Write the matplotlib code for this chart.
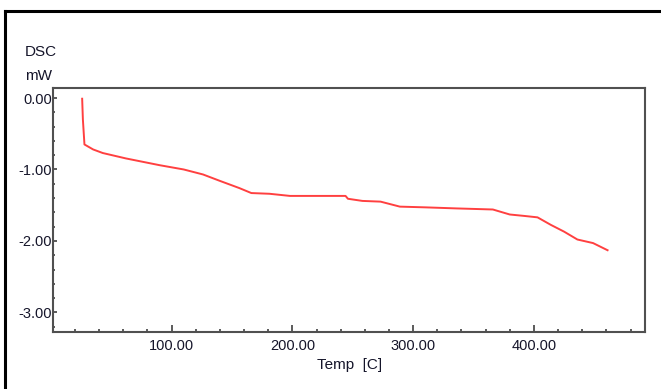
import matplotlib
matplotlib.use('Agg')
import matplotlib.pyplot as plt
from matplotlib.lines import Line2D
from matplotlib.ticker import MultipleLocator, FormatStrFormatter

plt.rcParams['font.family'] = ['Liberation Sans', 'DejaVu Sans']

# DSC trace
temp = [25.9, 26.5, 27.8, 35, 43, 62, 90, 110, 126, 140, 156, 166, 181, 198,
        231, 244, 246, 258, 273, 289, 310, 336, 366, 380, 392, 403, 414, 425,
        436, 449, 461]
dsc = [-0.01, -0.30, -0.65, -0.72, -0.77, -0.845, -0.94, -1.00, -1.07, -1.16,
       -1.26, -1.33, -1.34, -1.37, -1.37, -1.37, -1.41, -1.44, -1.45, -1.52,
       -1.53, -1.545, -1.56, -1.63, -1.65, -1.67, -1.775, -1.87, -1.98, -2.03,
       -2.13]

W, H = 661, 389
fig = plt.figure(figsize=(W / 100, H / 100), dpi=100)
ax = fig.add_axes([53.3 / W, 1 - 331.7 / H, (645 - 53.3) / W, (331.7 - 88) / H])

ax.plot(temp, dsc, color='#ff4040', lw=1.4)

ax.set_xlim(2, 492)
ax.set_ylim(-3.27, 0.14)

ax.xaxis.set_major_locator(MultipleLocator(100))
ax.xaxis.set_minor_locator(MultipleLocator(20))
ax.yaxis.set_major_locator(MultipleLocator(1))
ax.yaxis.set_minor_locator(MultipleLocator(0.2))
ax.xaxis.set_major_formatter(FormatStrFormatter('%.2f'))
ax.yaxis.set_major_formatter(FormatStrFormatter('%.2f'))
ax.set_xticks([100, 200, 300, 400])

txt = '#15152a'
ax.tick_params(axis='x', which='major', direction='in', length=5, width=1.2,
               color='#404040', labelsize=10.5, pad=5, labelcolor=txt)
ax.tick_params(axis='x', which='minor', direction='in', length=2.5, width=1.2,
               color='#404040')
ax.tick_params(axis='y', which='major', direction='in', length=3, width=1.2,
               color='#404040', labelsize=10.5, pad=1, labelcolor=txt)
ax.tick_params(axis='y', which='minor', direction='in', length=1.5, width=1.2,
               color='#404040')

for s in ax.spines.values():
    s.set_color('#505050')
    s.set_linewidth(1.5)

ax.set_xlabel('Temp  [C]', fontsize=11, color=txt, labelpad=4)
fig.text(25 / W, 1 - 52 / H, 'DSC', fontsize=11, color=txt, ha='left', va='center')
fig.text(25 / W, 1 - 76 / H, 'mW', fontsize=11, color=txt, ha='left', va='center')

# outer frame (top and left edges visible)
fig.add_artist(Line2D([5 / W, 1], [1 - 11 / H, 1 - 11 / H], color='black', lw=2.2,
                      transform=fig.transFigure))
fig.add_artist(Line2D([5 / W, 5 / W], [0, 1 - 11 / H], color='black', lw=2.2,
                      transform=fig.transFigure))

fig.savefig('out.png', dpi=100)
